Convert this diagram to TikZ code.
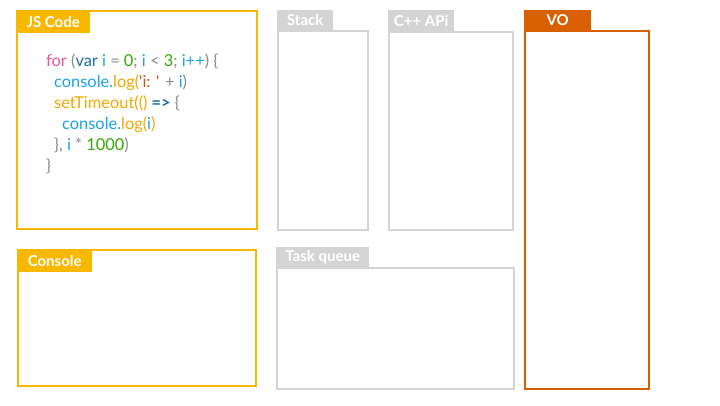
\documentclass[tikz,border=0pt]{standalone}
\usepackage{fontspec}
\setmainfont{Lato}
\newfontfamily\codefont{Lato}
\definecolor{ylw}{HTML}{F8B800}
\definecolor{gry}{HTML}{D4D4D4}
\definecolor{org}{HTML}{D96000}
\definecolor{kpink}{HTML}{E8559A}
\definecolor{kdblue}{HTML}{1A6FA8}
\definecolor{kblue}{HTML}{1AA3E8}
\definecolor{kor}{HTML}{F2A900}
\definecolor{kgreen}{HTML}{33AA00}
\definecolor{kstr}{HTML}{D9531E}
\definecolor{kgray}{HTML}{888888}
\newcommand{\cP}[1]{\textcolor{kpink}{#1}}
\newcommand{\cD}[1]{\textcolor{kdblue}{#1}}
\newcommand{\cB}[1]{\textcolor{kblue}{#1}}
\newcommand{\cO}[1]{\textcolor{kor}{#1}}
\newcommand{\cG}[1]{\textcolor{kgreen}{#1}}
\newcommand{\cS}[1]{\textcolor{kstr}{#1}}
\newcommand{\cY}[1]{\textcolor{kgray}{#1}}
\begin{document}
\begin{tikzpicture}[x=1pt,y=-1pt,
  panel/.style={draw=#1, line width=2pt, fill=white, anchor=north west, inner sep=0pt},
  tab/.style={fill=#1, anchor=north west, inner sep=0pt, text=white, font=\fontsize{15}{17}\selectfont\bfseries},
  code/.style={anchor=base west, inner sep=0pt, font=\codefont\fontsize{16.4}{18}\selectfont}]
\useasboundingbox (0,0) rectangle (720,405);
\fill[white] (0,0) rectangle (720,405);
% JS Code
\node[panel=ylw, minimum width=240pt, minimum height=218pt] (js) at (16,10) {};
\node[tab=ylw, minimum width=74pt, minimum height=23pt] (jst) at (16,10) {JS Code};
% Console
\node[panel=ylw, minimum width=238pt, minimum height=136pt] (con) at (17,249) {};
\node[tab=ylw, minimum width=75pt, minimum height=23pt] (cont) at (17,249) {Console};
% Stack
\node[panel=gry, minimum width=90pt, minimum height=199pt] (stk) at (277,30) {};
\node[tab=gry, minimum width=56pt, minimum height=20pt] (stkt) at (277,10) {Stack};
% C++ API
\node[panel=gry, minimum width=124pt, minimum height=198pt] (api) at (388,31) {};
\node[tab=gry, minimum width=66pt, minimum height=21pt] (apit) at (388,10) {C++ APi};
% Task queue
\node[panel=gry, minimum width=237pt, minimum height=121pt] (tq) at (276,267) {};
\node[tab=gry, minimum width=93pt, minimum height=20pt] (tqt) at (276,247) {Task queue};
% VO
\node[panel=org, minimum width=124pt, minimum height=358pt] (vo) at (524,30) {};
\node[tab=org, minimum width=67pt, minimum height=20pt] (vot) at (524,10) {VO};
% code
\node[code] (l1) at (46,66.5) {\cP{for} \cY{(}\cD{var} \cB{i} \cY{=} \cG{0}\cY{;} \cB{i} \cY{<} \cG{3}\cY{;} \cB{i++}\cY{) \{}};
\node[code] (l2) at (54,87.5) {\cB{console.}\cO{log(}\cS{'i: '} \cY{+} \cB{i}\cY{)}};
\node[code] (l3) at (54,108.5) {\cO{setTimeout(()} \cD{\bfseries =>} \cY{\{}};
\node[code] (l4) at (62,129.5) {\cB{console.}\cO{log(}\cB{i}\cO{)}};
\node[code] (l5) at (54,150.5) {\cY{\},} \cB{i} \cY{*} \cG{1000}\cY{)}};
\node[code] (l6) at (46,171.5) {\cY{\}}};
\end{tikzpicture}
\end{document}
